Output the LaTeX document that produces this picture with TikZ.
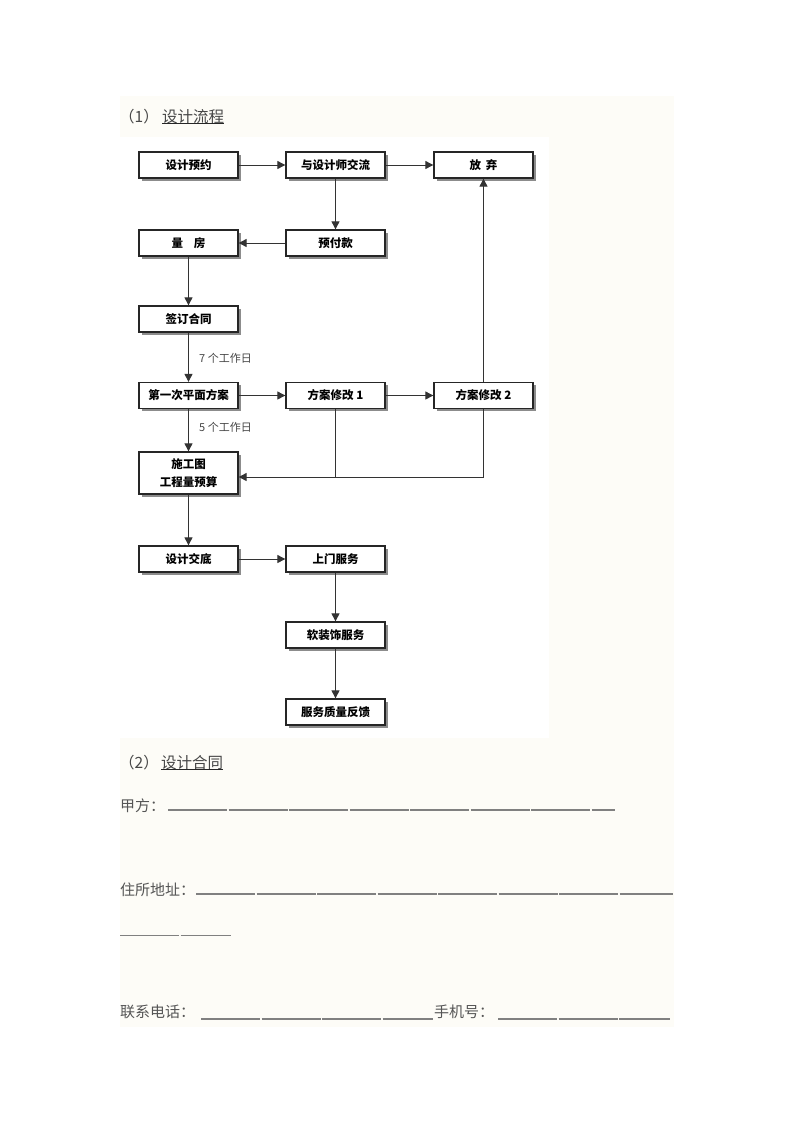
\documentclass[tikz,border=0pt]{standalone}
\usepackage{fontspec}
\newfontfamily\cjk{Noto Sans CJK SC}
\usetikzlibrary{arrows.meta,shadows}
\definecolor{paper}{RGB}{253,252,247}
\definecolor{inkgray}{RGB}{70,70,70}
\definecolor{txtgray}{RGB}{85,85,85}
\definecolor{blankgray}{RGB}{128,128,128}
\tikzset{
  flowbox/.style={draw=black!85, line width=1.3pt, fill=white,
    minimum width=99pt, minimum height=26pt, inner sep=0pt,
    font=\cjk\bfseries\fontsize{11.5}{18}\selectfont,
    drop shadow={shadow xshift=2.5pt, shadow yshift=-2.5pt, fill=black!45, opacity=1}},
  arr/.style={draw=black!80, line width=0.9pt, -{Triangle[length=8pt,width=8pt]}},
  plainline/.style={draw=black!80, line width=0.9pt},
  daylab/.style={anchor=west, inner sep=0pt, text=inkgray, font=\cjk\fontsize{11}{13}\selectfont},
  heading/.style={anchor=west, inner sep=0pt, text=inkgray, font=\cjk\fontsize{15.5}{18}\selectfont},
  formtext/.style={anchor=west, inner sep=0pt, text=txtgray, font=\cjk\fontsize{15}{18}\selectfont},
  underl/.style={draw=black!85, line width=0.9pt},
  blank/.style={draw=blankgray, line width=1.2pt, dash pattern=on 59pt off 1.5pt}
}
\begin{document}
\begin{tikzpicture}[x=1pt,y=-1pt]
\useasboundingbox (0,0) rectangle (793,1122);
\fill[white] (0,0) rectangle (793,1122);
\fill[paper] (120,96) rectangle (674,1027);
\fill[white] (120,137) rectangle (549,738);

% heading 1
\node[heading] (h1n) at (119,117) {（1）};
\node[heading] (h1t) at (162,117) {设计流程};
\draw[underl] ([yshift=0.8pt]h1t.south west) -- ([yshift=0.8pt]h1t.south east);

% flow boxes
\node[flowbox] (yy) at (188.5,165) {设计预约};
\node[flowbox] (jl) at (335.5,165) {与设计师交流};
\node[flowbox] (fq) at (483.5,165) {放\hspace{5pt}弃};
\node[flowbox] (lf) at (188.5,243) {量\hspace{11pt}房};
\node[flowbox] (yf) at (335.5,243) {预付款};
\node[flowbox] (qd) at (188.5,319) {签订合同};
\node[flowbox] (p1) at (188.5,395.5) {第一次平面方案};
\node[flowbox] (m1) at (335.5,395.5) {方案修改 1};
\node[flowbox] (m2) at (483.5,395.5) {方案修改 2};
\node[flowbox, minimum height=42pt, align=center] (sg) at (188.5,473) {施工图\\工程量预算};
\node[flowbox] (jd) at (188.5,559) {设计交底};
\node[flowbox] (sm) at (335.5,559) {上门服务};
\node[flowbox] (rz) at (335.5,635) {软装饰服务};
\node[flowbox] (fk) at (335.5,712) {服务质量反馈};

\node[daylab] (d7) at (199,358) {7 个工作日};
\node[daylab] (d5) at (199,427) {5 个工作日};

% connectors
\draw[arr] (yy) -- (jl);
\draw[arr] (jl) -- (fq);
\draw[arr] (jl) -- (yf);
\draw[arr] (yf) -- (lf);
\draw[arr] (lf) -- (qd);
\draw[arr] (qd) -- (p1);
\draw[arr] (p1) -- (m1);
\draw[arr] (m1) -- (m2);
\draw[arr] (m2) -- (fq);
\draw[arr] (p1) -- (sg);
\coordinate (mj) at ([yshift=-4pt]sg.east);
\draw[arr] (m2.south) |- (mj);
\draw[plainline] (m1.south) -- (m1.south |- mj);
\draw[arr] (sg) -- (jd);
\draw[arr] (jd) -- (sm);
\draw[arr] (sm) -- (rz);
\draw[arr] (rz) -- (fk);

% heading 2
\node[heading] (h2n) at (119,763) {（2）};
\node[heading] (h2t) at (161,763) {设计合同};
\draw[underl] ([yshift=0.8pt]h2t.south west) -- ([yshift=0.8pt]h2t.south east);

% form
\node[formtext] (jf) at (120,806) {甲方：};
\draw[blank] (168,810) -- (615,810);
\node[formtext] (zs) at (120,890) {住所地址：};
\draw[blank] (196,894) -- (673,894);
\draw[blank] (120,935.5) -- (231,935.5);
\node[formtext] (lx) at (120,1012) {联系电话：};
\draw[blank] (201,1019) -- (433,1019);
\node[formtext] (sj) at (434,1012) {手机号：};
\draw[blank] (498,1019) -- (670,1019);
\end{tikzpicture}
\end{document}
